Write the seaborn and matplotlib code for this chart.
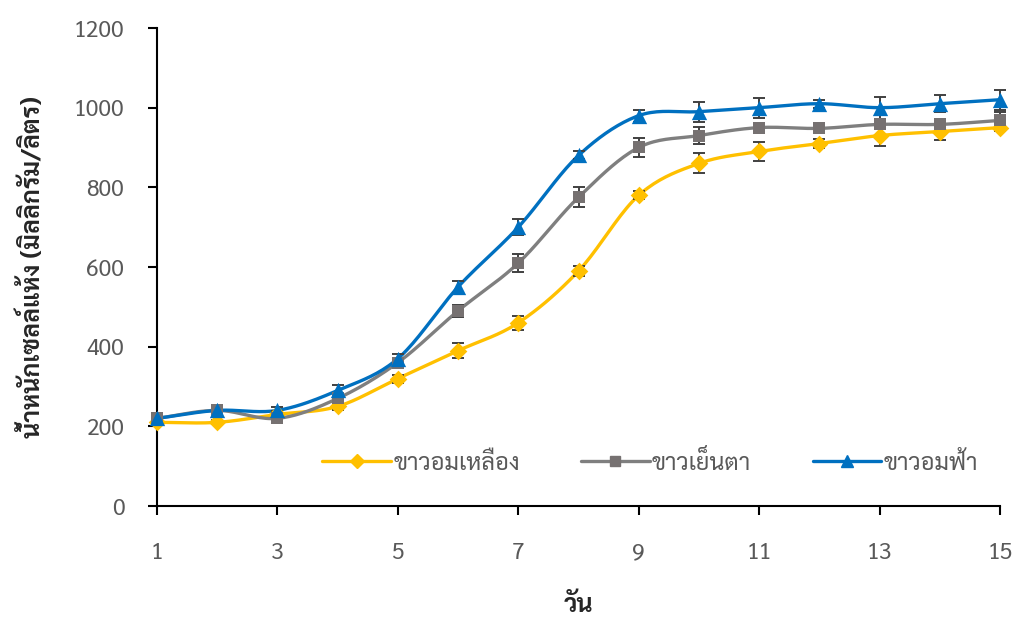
import matplotlib
matplotlib.use("Agg")
import numpy as np
import pandas as pd
import seaborn as sns
import matplotlib.pyplot as plt
from matplotlib.lines import Line2D

# ---------------- data ----------------
days = list(range(1, 16))
series_names = ["ขาวอมเหลือง", "ขาวเย็นตา", "ขาวอมฟ้า"]
yellow = [210, 210, 230, 250, 320, 390, 460, 590, 780, 860, 890, 910, 930, 940, 950]
yellow_err = [5, 5, 8, 10, 10, 18, 18, 12, 10, 25, 25, 12, 25, 20, 8]
gray = [220, 240, 220, 270, 360, 490, 610, 775, 900, 930, 950, 948, 958, 958, 968]
gray_err = [8, 10, 10, 12, 10, 15, 22, 25, 25, 22, 10, 8, 10, 12, 20]
blue = [220, 240, 240, 290, 370, 550, 700, 880, 980, 990, 1000, 1010, 1000, 1010, 1020]
blue_err = [5, 10, 8, 15, 12, 15, 20, 10, 15, 25, 25, 10, 28, 22, 25]
x_ticks = [1, 3, 5, 7, 9, 11, 13, 15]
y_ticks = [0, 200, 400, 600, 800, 1000, 1200]
x_label = "วัน"
y_label = "น้ำหนักเซลล์แห้ง (มิลลิกรัม/ลิตร)"

colors = ["#FFC000", "#7F7F7F", "#0070C0"]
marker_colors = ["#FFC000", "#767171", "#0070C0"]
markers = ["D", "s", "^"]
msizes = [9, 8.5, 11]

sns.set_theme(style="white")
plt.rcParams['font.family'] = ['Sarabun', 'DejaVu Sans']


def smooth(xs, ys, n=20):
    """Catmull-Rom rendering of a line through the points (drawing style only)."""
    xs = np.asarray(xs, float)
    ys = np.asarray(ys, float)
    px = np.concatenate([[2 * xs[0] - xs[1]], xs, [2 * xs[-1] - xs[-2]]])
    py = np.concatenate([[2 * ys[0] - ys[1]], ys, [2 * ys[-1] - ys[-2]]])
    ox, oy = [], []
    for i in range(1, len(px) - 2):
        t = np.linspace(0, 1, n, endpoint=False)
        for P, out in ((px, ox), (py, oy)):
            p0, p1, p2, p3 = P[i - 1], P[i], P[i + 1], P[i + 2]
            out.extend(0.5 * ((2 * p1) + (-p0 + p2) * t + (2 * p0 - 5 * p1 + 4 * p2 - p3) * t ** 2
                              + (-p0 + 3 * p1 - 3 * p2 + p3) * t ** 3))
    ox.append(xs[-1]); oy.append(ys[-1])
    return ox, oy


fig = plt.figure(figsize=(10.21, 6.17), dpi=100)
ax = fig.add_axes([157 / 1021, 1 - 506 / 617, (1000 - 157) / 1021, (506 - 28) / 617])

vals = [yellow, gray, blue]
errs = [yellow_err, gray_err, blue_err]
rows = []
for name, v in zip(series_names, vals):
    sx, sy = smooth(days, v)
    for a, b in zip(sx, sy):
        rows.append((name, a, b))
curve = pd.DataFrame(rows, columns=["series", "day", "value"])
sns.lineplot(data=curve, x="day", y="value", hue="series", palette=dict(zip(series_names, colors)),
             estimator=None, sort=False, linewidth=2.4, legend=False, ax=ax, zorder=2)

for name, v, e, mc, m, ms in zip(series_names, vals, errs, marker_colors, markers, msizes):
    ax.errorbar(days, v, yerr=e, fmt="none", ecolor="#404040", elinewidth=1.4, capsize=4.5,
                capthick=1.4, zorder=3)
    pts = pd.DataFrame({"day": days, "value": v})
    sns.scatterplot(data=pts, x="day", y="value", marker=m, s=ms ** 2, color=mc, edgecolor=mc,
                    linewidth=0, ax=ax, zorder=4, legend=False)

ax.set_xlim(1, 15)
ax.set_ylim(0, 1200)
ax.set_xticks(x_ticks)
ax.set_yticks(y_ticks)
ax.set_xticklabels([str(t) for t in x_ticks])
ax.set_yticklabels([str(t) for t in y_ticks])
for s in ["top", "right"]:
    ax.spines[s].set_visible(False)
for s in ["left", "bottom"]:
    ax.spines[s].set_color("black")
    ax.spines[s].set_linewidth(1.5)
ax.tick_params(axis="both", which="major", direction="out", length=6.5, width=1.5, color="black",
               labelsize=16.5, labelcolor="#595959", left=True, bottom=True)
ax.tick_params(axis="x", pad=19)
ax.tick_params(axis="y", pad=17)
for c in ax.get_children():
    try:
        c.set_clip_on(False)
    except Exception:
        pass

ax.set_xlabel(x_label, fontsize=18, fontweight="bold", color="#262626", labelpad=22)
ax.set_ylabel(y_label, fontsize=18, fontweight="bold", color="#262626", labelpad=20)

handles = [Line2D([0], [0], color=c, lw=2.4, marker=m, markersize=ms * 0.8, markerfacecolor=mc,
                  markeredgecolor=mc) for c, mc, m, ms in zip(colors, marker_colors, markers, msizes)]
leg = ax.legend(handles, series_names, loc="center", bbox_to_anchor=(0.585, 0.092), ncol=3,
                frameon=False, fontsize=17, handlelength=2.9, handletextpad=0.1, columnspacing=2.6)
for t in leg.get_texts():
    t.set_color("#595959")

fig.savefig("out.png", dpi=100)
